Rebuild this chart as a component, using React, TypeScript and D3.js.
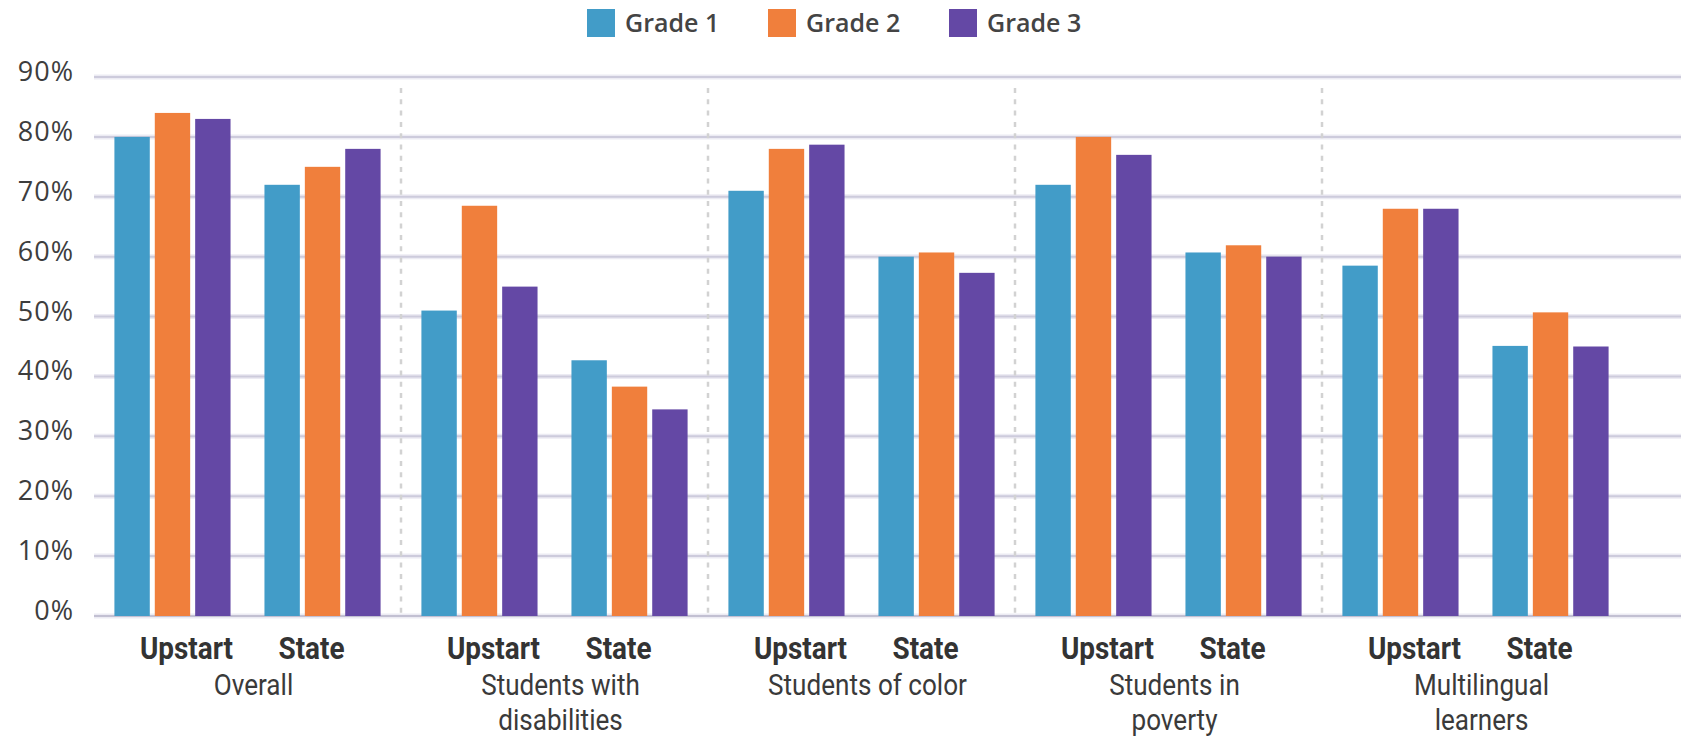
import React, { useEffect, useRef } from "react";
import * as d3 from "d3";

// categories along the x axis (two-line labels split on "\n")
const groups = [
  "Overall",
  "Students with\ndisabilities",
  "Students of color",
  "Students in\npoverty",
  "Multilingual\nlearners",
];
const sides = ["Upstart", "State"];
const grades = ["Grade 1", "Grade 2", "Grade 3"];

// percent values, one row per group, [Upstart G1..G3, State G1..G3]
const overall = [80, 84, 83, 72, 75, 78];
const disabilities = [51, 68.5, 55, 42.7, 38.3, 34.5];
const ofColor = [71, 78, 78.7, 60, 60.7, 57.3];
const poverty = [72, 80, 77, 60.7, 61.9, 60];
const multilingual = [58.5, 68, 68, 45.1, 50.7, 45];

const yTicks = [0, 10, 20, 30, 40, 50, 60, 70, 80, 90];
const colors = ["#429CC8", "#F07F3C", "#6448A5"];

const rows = [overall, disabilities, ofColor, poverty, multilingual];

const App: React.FC = () => {
  const svgRef = useRef<SVGSVGElement>(null);

  useEffect(() => {
    if (!svgRef.current) return;
    const W = 1681;
    const H = 741;

    const svg = d3.select(svgRef.current);
    svg.selectAll("*").remove();
    svg.attr("width", W).attr("height", H);
    svg.append("rect").attr("width", W).attr("height", H).attr("fill", "#fff");

    const x0 = d3.scaleBand<string>().domain(groups).range([94, 1629]);
    const x1 = d3
      .scaleBand<string>()
      .domain(sides)
      .range([0, x0.bandwidth()])
      .paddingOuter(0.023);
    const x2 = d3
      .scaleBand<string>()
      .domain(grades)
      .range([0, x1.bandwidth()])
      .paddingInner(0.124)
      .paddingOuter(0.42);
    const y = d3.scaleLinear().domain([0, 90]).range([616, 77]);

    // gridlines
    const grid = svg.append("g");
    yTicks.forEach((t) => {
      grid
        .append("line")
        .attr("x1", 94)
        .attr("x2", W)
        .attr("y1", y(t))
        .attr("y2", y(t))
        .attr("stroke", "#ecebf3")
        .attr("stroke-width", 5);
      grid
        .append("line")
        .attr("x1", 94)
        .attr("x2", W)
        .attr("y1", y(t))
        .attr("y2", y(t))
        .attr("stroke", t === 0 ? "#c2c0d2" : "#cdcbdc")
        .attr("stroke-width", 2);
    });

    // y labels
    svg
      .append("g")
      .selectAll("text")
      .data(yTicks)
      .join("text")
      .attr("x", 74)
      .attr("y", (d) => y(d) + 4)
      .attr("text-anchor", "end")
      .attr("font-family", "'Open Sans', sans-serif")
      .attr("font-size", 27)
      .attr("letter-spacing", 1)
      .attr("fill", "#3d3d3d")
      .text((d) => `${d}%`);

    // dotted separators between groups
    groups.slice(1).forEach((g) => {
      svg
        .append("line")
        .attr("x1", x0(g)!)
        .attr("x2", x0(g)!)
        .attr("y1", 88)
        .attr("y2", y(0))
        .attr("stroke", "#d2d2d2")
        .attr("stroke-width", 2.5)
        .attr("stroke-dasharray", "5 6.3");
    });

    // bars
    groups.forEach((g, gi) => {
      sides.forEach((s, si) => {
        grades.forEach((gr, ki) => {
          const v = rows[gi][si * 3 + ki];
          svg
            .append("rect")
            .attr("x", x0(g)! + x1(s)! + x2(gr)!)
            .attr("y", y(v))
            .attr("width", x2.bandwidth())
            .attr("height", y(0) - y(v))
            .attr("fill", colors[ki]);
        });
      });
    });

    // x labels
    const lab = svg.append("g");
    groups.forEach((g) => {
      sides.forEach((s, si) => {
        const cx = x0(g)! + x1(s)! + x1.bandwidth() / 2 + (si === 0 ? 14 : -11);
        lab
          .append("text")
          .attr("transform", `translate(${cx},659) scale(0.9,1)`)
          .attr("text-anchor", "middle")
          .attr("font-family", "Roboto, sans-serif")
          .attr("font-weight", 700)
          .attr("font-size", 31)
          .attr("fill", "#333")
          .text(s);
      });
      const cx = x0(g)! + x0.bandwidth() / 2 + 6;
      const t = lab
        .append("text")
        .attr("transform", `translate(${cx},0) scale(0.9,1)`)
        .attr("text-anchor", "middle")
        .attr("font-family", "Roboto, sans-serif")
        .attr("font-size", 29)
        .attr("fill", "#3a3a3a");
      g.split("\n").forEach((line, li) => {
        t.append("tspan")
          .attr("x", 0)
          .attr("y", 695 + li * 35)
          .text(line);
      });
    });

    // legend
    const legend = svg.append("g");
    grades.forEach((gr, i) => {
      const lx = 587 + i * 181;
      legend
        .append("rect")
        .attr("x", lx)
        .attr("y", 9)
        .attr("width", 28)
        .attr("height", 28)
        .attr("fill", colors[i]);
      legend
        .append("text")
        .attr("x", lx + 38)
        .attr("y", 32)
        .attr("font-family", "'Open Sans', sans-serif")
        .attr("font-weight", 600)
        .attr("font-size", 25)
        .attr("fill", "#444")
        .text(gr);
    });
  }, []);

  return (
    <svg
      ref={svgRef}
      style={{ position: "absolute", left: 0, top: 0, display: "block" }}
    ></svg>
  );
};

export default App;
